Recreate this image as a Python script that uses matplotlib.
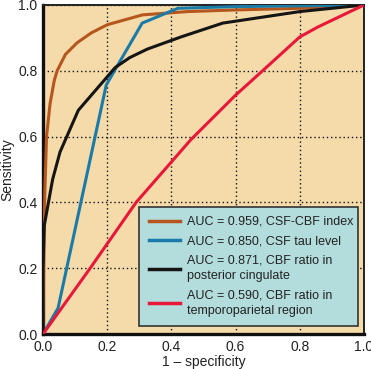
import matplotlib
matplotlib.use("Agg")
import matplotlib.pyplot as plt

plt.rcParams['font.family'] = ['Liberation Sans', 'DejaVu Sans']

labels = [
    "AUC = 0.959, CSF-CBF index",
    "AUC = 0.850, CSF tau level",
    "AUC = 0.871, CBF ratio in\nposterior cingulate",
    "AUC = 0.590, CBF ratio in\ntemporoparietal region",
]
colors = ["#B5561E", "#1B7BA8", "#151515", "#E8183A"]

orange_x = [0, 0.003, 0.006, 0.011, 0.022, 0.035, 0.044, 0.07, 0.106, 0.15, 0.2, 0.31, 0.45, 0.6, 0.8, 1.0]
orange_y = [0, 0.30, 0.44, 0.60, 0.70, 0.77, 0.80, 0.85, 0.885, 0.915, 0.94, 0.97, 0.98, 0.985, 0.99, 1.0]

blue_x = [0, 0.047, 0.197, 0.309, 0.42, 0.6, 1.0]
blue_y = [0, 0.079, 0.757, 0.945, 0.99, 0.995, 1.0]

black_x = [0, 0, 0.004, 0.03, 0.053, 0.11, 0.225, 0.27, 0.325, 0.43, 0.56, 0.8, 1.0]
black_y = [0, 0.2, 0.33, 0.47, 0.553, 0.68, 0.81, 0.84, 0.866, 0.903, 0.945, 0.98, 1.0]

red_x = [0, 0.147, 0.29, 0.46, 0.60, 0.684, 0.80, 0.856, 1.0]
red_y = [0, 0.20, 0.40, 0.59, 0.726, 0.80, 0.903, 0.933, 1.0]

xs = [orange_x, blue_x, black_x, red_x]
ys = [orange_y, blue_y, black_y, red_y]

ticks = [0.0, 0.2, 0.4, 0.6, 0.8, 1.0]
tick_labels = ["0.0", "0.2", "0.4", "0.6", "0.8", "1.0"]

fig = plt.figure(figsize=(3.71, 3.69), dpi=100)
ax = fig.add_axes([43/371, 35/369, 321/371, 329/369])
ax.set_facecolor("#F5DBA9")

for x, y, c, l in zip(xs, ys, colors, labels):
    ax.plot(x, y, color=c, lw=2.2, label=l, zorder=3, solid_joinstyle='round')

ax.set_xlim(0, 1)
ax.set_ylim(0, 1)
ax.set_xticks(ticks)
ax.set_xticklabels(tick_labels)
ax.set_yticks(ticks)
ax.set_yticklabels(tick_labels)
ax.tick_params(length=0, pad=4, labelsize=10, colors="#222222")
ax.grid(True, linestyle=(0, (1, 2)), color="#111111", lw=1.0, zorder=1)
ax.set_axisbelow(True)

for s in ["left", "bottom"]:
    ax.spines[s].set_linewidth(2.4)
    ax.spines[s].set_color("#111111")
for s in ["top", "right"]:
    ax.spines[s].set_linewidth(1.4)
    ax.spines[s].set_color("#222222")

ax.set_xlabel("1 \u2013 specificity", fontsize=10, color="#222222", labelpad=1)
ax.set_ylabel("Sensitivity", fontsize=10, color="#222222", labelpad=3)

leg = ax.legend(loc="lower left", bbox_to_anchor=(0.30, 0.024, 0.68, 0.36),
                mode="expand", fontsize=9, handlelength=2.5, handletextpad=0.55,
                labelspacing=0.6, borderpad=0.75, borderaxespad=0,
                fancybox=False, framealpha=1)
leg.get_frame().set_facecolor("#B3DCDC")
leg.get_frame().set_edgecolor("#333333")
leg.get_frame().set_linewidth(1.2)
for line in leg.get_lines():
    line.set_linewidth(2.5)
for t in leg.get_texts():
    t.set_color("#222222")
    t.set_linespacing(1.35)

fig.savefig("out.png", dpi=100, facecolor="white")
